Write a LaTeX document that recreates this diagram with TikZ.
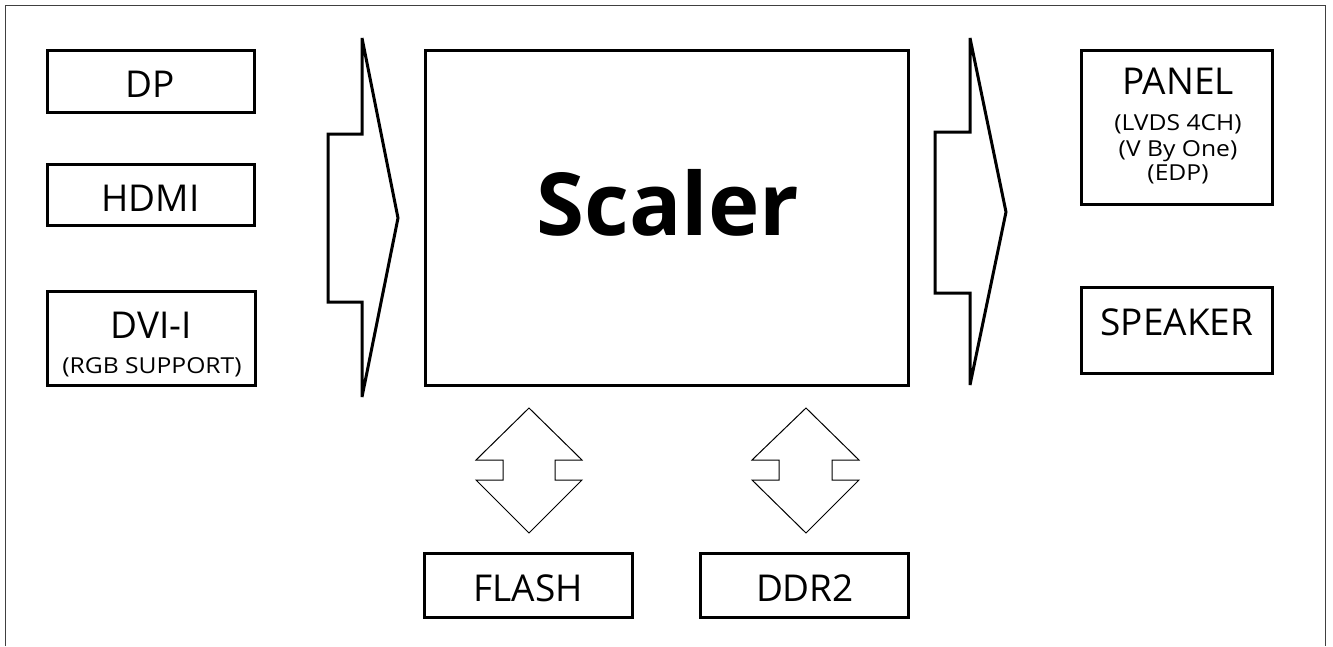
\documentclass[tikz,border=0pt]{standalone}
\usepackage{fontspec}
\setmainfont{Open Sans}
\newfontfamily\widesmall[FakeStretch=1.12]{Open Sans}
\begin{document}
\begin{tikzpicture}[x=1pt,y=-1pt,
  box/.style={draw=black,line width=3pt,rectangle,inner sep=0pt},
  bigarrow/.style={draw=black,line width=3pt,line join=miter,miter limit=5},
  smallarrow/.style={draw=black,line width=1pt,line join=miter},
  bigtxt/.style={anchor=base,inner sep=0pt,font=\fontsize{37}{40}\selectfont},
  smalltxt/.style={anchor=base,inner sep=0pt,font=\widesmall\fontsize{22}{25}\selectfont}]
\useasboundingbox (0,0) rectangle (1333,646);
\draw[black!75,line width=1pt] (5,646) -- (5,5) -- (1325,5) -- (1325,646);
% boxes
\node[box,minimum width=207pt,minimum height=62pt] (dp) at (150.5,81) {};
\node[box,minimum width=207pt,minimum height=61pt] (hdmi) at (150.5,194.5) {};
\node[box,minimum width=208pt,minimum height=94pt] (dvi) at (151,338) {};
\node[box,minimum width=483pt,minimum height=335pt] (scaler) at (666.5,217.5) {};
\node[box,minimum width=191pt,minimum height=154pt] (panel) at (1176.5,127) {};
\node[box,minimum width=191pt,minimum height=86pt] (speaker) at (1176.5,330) {};
\node[box,minimum width=208pt,minimum height=64pt] (flash) at (528,585) {};
\node[box,minimum width=208pt,minimum height=64pt] (ddr) at (804,585) {};
% texts
\node[bigtxt] (tdp) at (150.5,97) {DP};
\node[bigtxt] (thdmi) at (150.5,211) {HDMI};
\node[bigtxt] (tdvi) at (151,338) {DVI-I};
\node[smalltxt] (trgb) at (152,373) {(RGB SUPPORT)};
\node[anchor=base,inner sep=0pt,font=\fontsize{87}{92}\selectfont\bfseries] (tscaler) at (668,235) {Scaler};
\node[bigtxt] (tpanel) at (1178,94) {PANEL};
\node[smalltxt] (tlvds) at (1178,130) {(LVDS 4CH)};
\node[smalltxt] (tvbo) at (1178,156) {(V By One)};
\node[smalltxt] (tedp) at (1178,180) {(EDP)};
\node[bigtxt] (tspk) at (1177,335) {SPEAKER};
\node[bigtxt] (tflash) at (528,601) {FLASH};
\node[bigtxt] (tddr) at (805,601) {DDR2};
% big arrows
\draw[bigarrow] (328,134) -- (362,134) -- (362,38) -- (398,218) -- (362,397) -- (362,302) -- (328,302) -- cycle;
\draw[bigarrow] (935,132) -- (970,132) -- (970,38) -- (1006,212) -- (970,385) -- (970,293) -- (935,293) -- cycle;
% double arrows
\draw[smallarrow] (529,408) -- (582,460) -- (555,460) -- (555,480) -- (582,480) -- (529,533) -- (476,480) -- (503,480) -- (503,460) -- (476,460) -- cycle;
\draw[smallarrow] (806,408) -- (859,460) -- (832,460) -- (832,480) -- (859,480) -- (806,533) -- (752,480) -- (779,480) -- (779,460) -- (752,460) -- cycle;
\end{tikzpicture}
\end{document}
